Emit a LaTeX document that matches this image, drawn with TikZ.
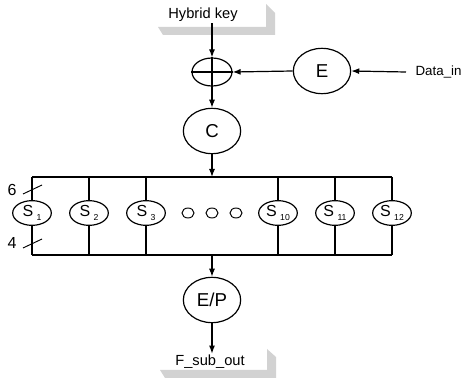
\documentclass[tikz,border=0pt]{standalone}
\usepackage{fontspec}
\setmainfont{Liberation Sans}
\usetikzlibrary{arrows.meta,shapes.geometric}
\begin{document}
\begin{tikzpicture}[x=0.75pt,y=-0.75pt,
  ell/.style={ellipse,draw,line width=0.9pt,inner sep=0pt},
  big/.style={ell,minimum width=43pt,minimum height=34pt,font=\fontsize{14}{14}\selectfont},
  sbox/.style={ell,minimum width=29pt,minimum height=18.5pt,font=\fontsize{12}{12}\selectfont},
  dotc/.style={ellipse,draw,line width=0.7pt,minimum width=9pt,minimum height=7.5pt,inner sep=0pt},
  arr/.style={line width=0.9pt,-{Latex[length=6pt,width=4.5pt]}},
  ln/.style={line width=0.9pt},
  lbl/.style={font=\fontsize{11}{11}\selectfont,inner sep=1pt},
  shade/.style={fill=gray!35,draw=none}]
\useasboundingbox (0,0) rectangle (469,385);

% shadows
\fill[shade] (158,27) -- (266,27) -- (266,4) -- (275,13) -- (275,35) -- (163,35) -- cycle;
\fill[shade] (160,370) -- (267,370) -- (267,349) -- (276,357) -- (276,378) -- (165,378) -- cycle;

% nodes
\node[lbl] (hk) at (203,15) {Hybrid key};
\node[ell,minimum width=30pt,minimum height=21pt] (xor) at (212,72) {};
\draw[ln] (xor.north) -- (xor.south);
\draw[ln] (xor.west) -- (xor.east);
\node[big] (E) at (322,71) {E};
\node[lbl,anchor=west,inner sep=0pt,font=\fontsize{10}{10}\selectfont] (din) at (406,72) {\hspace{7pt}Data\_in};
\node[big] (C) at (212,131) {C};
\node[big] (EP) at (212,300) {E/P};
\node[lbl] (fso) at (210,362) {F\_sub\_out};

% connectors
\draw[arr] (hk.south -| xor.north) -- (xor.north);
\draw[arr] (din.west) -- (E.east);
\draw[arr] (E.west) -- (xor.east);
\draw[arr] (xor.south) -- (C.north);

% bus
\coordinate (bTL) at (32,177);
\coordinate (bTR) at (392,177);
\coordinate (bBL) at (32,255);
\coordinate (bBR) at (392,255);
\draw[arr] (C.south) -- (C.south |- bTL);
\draw[ln] (bTL) -- (bTR);
\draw[ln] (bBL) -- (bBR);
\draw[arr] (EP.north |- bBL) -- (EP.north);
\draw[arr] (EP.south) -- (fso.north -| EP.south);

\newcommand{\slab}[1]{S\raisebox{-0.45ex}{\hspace{2.5pt}\fontsize{6.5}{6.5}\selectfont #1}}
\foreach \n/\x in {1/32,2/89,3/146,10/278,11/335,12/392}{
  \node[sbox] (S\n) at (\x,213) {\slab{\n}};
  \draw[ln] (S\n.north |- bTL) -- (S\n.north);
  \draw[ln] (S\n.south) -- (S\n.south |- bBL);
}
\node[dotc] (d1) at (188,213) {};
\node[dotc] (d2) at (212,213) {};
\node[dotc] (d3) at (236,213) {};

% bit-width marks
\node[lbl,font=\fontsize{12}{12}\selectfont] (six) at (12,190) {6};
\node[lbl,font=\fontsize{12}{12}\selectfont] (four) at (12,243) {4};
\coordinate (m6a) at (23,194);
\coordinate (m6b) at (42,185);
\coordinate (m4a) at (23,248);
\coordinate (m4b) at (42,239);
\draw[line width=0.7pt] (m6a) -- (m6b);
\draw[line width=0.7pt] (m4a) -- (m4b);
\end{tikzpicture}
\end{document}
